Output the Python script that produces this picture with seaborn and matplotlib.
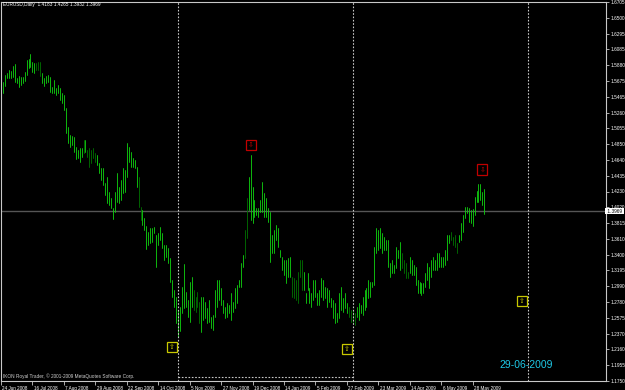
import matplotlib
matplotlib.use("Agg")
import matplotlib.pyplot as plt
import matplotlib.transforms as mtransforms
import numpy as np
import pandas as pd
import seaborn as sns

# ---------------- data ----------------
highs = [
    1.5620, 1.5663, 1.5751, 1.5773, 1.5816, 1.5807, 1.5868, 1.5894, 1.5707, 1.5738,
    1.5728, 1.5728, 1.5794, 1.5947, 1.5956, 1.6025, 1.5925, 1.5903, 1.5903, 1.5925,
    1.5925, 1.5773, 1.5707, 1.5738, 1.5751, 1.5728, 1.5598, 1.5685, 1.5585, 1.5620,
    1.5576, 1.5511, 1.5489, 1.5315, 1.5075, 1.4966, 1.4953, 1.4944, 1.4813, 1.4770,
    1.4792, 1.4792, 1.4901, 1.4901, 1.4770, 1.4792, 1.4770, 1.4792, 1.4727, 1.4705,
    1.4596, 1.4531, 1.4531, 1.4335, 1.4422, 1.4225, 1.4138, 1.4008, 1.4225, 1.4466,
    1.4291, 1.4378, 1.4531, 1.4509, 1.4858, 1.4813, 1.4748, 1.4661, 1.4639, 1.4552,
    1.4422, 1.4029, 1.3986, 1.3880, 1.3770, 1.3700, 1.3750, 1.3746, 1.3768, 1.3659,
    1.3680, 1.3768, 1.3680, 1.3528, 1.3528, 1.3484, 1.3353, 1.3070, 1.2939, 1.2850,
    1.2678, 1.2722, 1.2983, 1.3280, 1.2918, 1.2809, 1.3048, 1.3114, 1.2939, 1.2852,
    1.2918, 1.2787, 1.2852, 1.2852, 1.2787, 1.2700, 1.2809, 1.2591, 1.2613, 1.2939,
    1.3070, 1.3070, 1.2961, 1.2809, 1.2722, 1.2765, 1.2743, 1.2896, 1.2787, 1.2961,
    1.3005, 1.3070, 1.3288, 1.3397, 1.3724, 1.4138, 1.4421, 1.4704, 1.4290, 1.4116,
    1.4007, 1.4007, 1.4116, 1.4356, 1.4203, 1.4138, 1.4007, 1.3964, 1.3659, 1.3724,
    1.3789, 1.3746, 1.3462, 1.3375, 1.3332, 1.3332, 1.3353, 1.3375, 1.3114, 1.3092,
    1.3070, 1.3179, 1.3332, 1.3332, 1.3179, 1.2896, 1.3157, 1.2961, 1.2896, 1.3070,
    1.3070, 1.2896, 1.2940, 1.3092, 1.3070, 1.2983, 1.2961, 1.2940, 1.2831, 1.2809,
    1.2765, 1.2635, 1.2896, 1.2983, 1.2831, 1.2896, 1.2765, 1.2722, 1.2678, 1.2678,
    1.2635, 1.2722, 1.2765, 1.2744, 1.2853, 1.2940, 1.2961, 1.3070, 1.3049, 1.3049,
    1.3506, 1.3746, 1.3724, 1.3746, 1.3681, 1.3637, 1.3593, 1.3593, 1.3288, 1.3332,
    1.3267, 1.3506, 1.3463, 1.3572, 1.3419, 1.3332, 1.3288, 1.3179, 1.3375, 1.3332,
    1.3267, 1.3245, 1.3070, 1.3049, 1.3027, 1.3027, 1.3157, 1.3288, 1.3245, 1.3332,
    1.3375, 1.3332, 1.3419, 1.3419, 1.3375, 1.3375, 1.3463, 1.3659, 1.3659, 1.3702,
    1.3637, 1.3659, 1.3550, 1.3659, 1.3811, 1.3920, 1.4029, 1.4029, 1.4007, 1.3986,
    1.3994, 1.4160, 1.4238, 1.4325, 1.4325, 1.4225, 1.4265,
]
lows = [
    1.5520, 1.5519, 1.5611, 1.5707, 1.5707, 1.5707, 1.5728, 1.5663, 1.5642, 1.5598,
    1.5620, 1.5642, 1.5676, 1.5751, 1.5838, 1.5851, 1.5794, 1.5773, 1.5816, 1.5816,
    1.5738, 1.5642, 1.5607, 1.5651, 1.5663, 1.5532, 1.5519, 1.5511, 1.5489, 1.5519,
    1.5424, 1.5380, 1.5293, 1.4988, 1.4858, 1.4813, 1.4835, 1.4748, 1.4648, 1.4661,
    1.4617, 1.4682, 1.4727, 1.4748, 1.4682, 1.4552, 1.4596, 1.4661, 1.4617, 1.4574,
    1.4466, 1.4378, 1.4313, 1.4182, 1.4073, 1.4051, 1.4008, 1.3864, 1.3963, 1.4094,
    1.4073, 1.4116, 1.4204, 1.4225, 1.4422, 1.4617, 1.4552, 1.4552, 1.4531, 1.4291,
    1.4029, 1.3855, 1.3790, 1.3720, 1.3480, 1.3530, 1.3560, 1.3571, 1.3680, 1.3245,
    1.3528, 1.3593, 1.3484, 1.3332, 1.3375, 1.3288, 1.3048, 1.2852, 1.2722, 1.2504,
    1.2329, 1.2400, 1.2634, 1.2700, 1.2722, 1.2591, 1.2525, 1.2722, 1.2678, 1.2656,
    1.2722, 1.2504, 1.2395, 1.2547, 1.2569, 1.2504, 1.2525, 1.2438, 1.2417, 1.2591,
    1.2722, 1.2809, 1.2743, 1.2634, 1.2569, 1.2591, 1.2634, 1.2547, 1.2656, 1.2700,
    1.2765, 1.2983, 1.2983, 1.3245, 1.3353, 1.3615, 1.3985, 1.3855, 1.3811, 1.3898,
    1.3920, 1.3898, 1.3964, 1.3964, 1.3898, 1.3898, 1.3833, 1.3310, 1.3419, 1.3419,
    1.3593, 1.3506, 1.3375, 1.3201, 1.3136, 1.3027, 1.3114, 1.3114, 1.2852, 1.2831,
    1.2809, 1.2765, 1.3114, 1.2939, 1.2939, 1.2765, 1.2940, 1.2765, 1.2722, 1.2809,
    1.2853, 1.2744, 1.2744, 1.2853, 1.2809, 1.2831, 1.2722, 1.2787, 1.2722, 1.2569,
    1.2504, 1.2526, 1.2569, 1.2678, 1.2656, 1.2700, 1.2635, 1.2591, 1.2526, 1.2504,
    1.2482, 1.2591, 1.2547, 1.2635, 1.2613, 1.2678, 1.2722, 1.2831, 1.2853, 1.2983,
    1.3005, 1.3419, 1.3463, 1.3484, 1.3419, 1.3463, 1.3463, 1.3245, 1.3114, 1.3157,
    1.3157, 1.3223, 1.3354, 1.3201, 1.3223, 1.3157, 1.3092, 1.3092, 1.3157, 1.3136,
    1.3136, 1.3005, 1.2896, 1.2896, 1.2874, 1.2896, 1.2983, 1.3070, 1.2961, 1.3114,
    1.3201, 1.3201, 1.3201, 1.3245, 1.3245, 1.3245, 1.3267, 1.3332, 1.3550, 1.3593,
    1.3528, 1.3506, 1.3419, 1.3572, 1.3593, 1.3702, 1.3877, 1.3942, 1.3833, 1.3811,
    1.3776, 1.3920, 1.4095, 1.4095, 1.4116, 1.4051, 1.3932,
]
dim_bars = [18, 19, 20, 42, 44, 45, 46, 47, 48, 70, 71, 98, 99, 100, 101, 124, 125,
            148, 149, 150, 151, 152, 153, 177, 178, 179, 180, 204, 205, 206, 207,
            229, 230, 231, 232]
last_open = 1.4183
last_close = 1.3969

date_labels = ["24 Jun 2008", "16 Jul 2008", "7 Aug 2008", "29 Aug 2008", "22 Sep 2008",
               "14 Oct 2008", "5 Nov 2008", "27 Nov 2008", "19 Dec 2008", "14 Jan 2009",
               "5 Feb 2009", "27 Feb 2009", "23 Mar 2009", "14 Apr 2009", "6 May 2009",
               "28 May 2009"]
date_label_bars = [0, 16, 32, 48, 64, 80, 96, 112, 128, 144, 160, 176, 192, 208, 224, 240]
price_labels = ["1.6705", "1.6500", "1.6295", "1.6085", "1.5880", "1.5675", "1.5465",
                "1.5260", "1.5055", "1.4850", "1.4640", "1.4435", "1.4230", "1.4020",
                "1.3815", "1.3610", "1.3400", "1.3195", "1.2990", "1.2780", "1.2575",
                "1.2370", "1.2160", "1.1955", "1.1750"]
price_top, price_bottom = 1.6705, 1.1750

cycle_bars = [90, 179, 268]
cycle_base_price = 1.1802
signal_bars = [87, 127, 176, 245, 265]
signal_prices = [1.2194, 1.4835, 1.2168, 1.4515, 1.2796]
signal_kinds = ["up", "down", "up", "down", "up"]
projection_date = "29-06-2009"

# ---------------- style ----------------
sns.set_style("dark", rc={"axes.facecolor": "black", "figure.facecolor": "black",
                          "axes.edgecolor": "#c8c8c8", "axes.grid": False})
plt.rcParams["font.family"] = ["Liberation Sans", "DejaVu Sans"]

W, H = 625, 390
fig = plt.figure(figsize=(W / 100, H / 100), dpi=100)
fig.patch.set_facecolor("black")
ax = fig.add_axes([0.5 / W, (H - 381) / H, 605.5 / W, 379 / H])
ax.set_facecolor("black")

# long-form table: each bar is a low->high segment
n = len(highs)
bars = np.arange(n)
tone = np.where(np.isin(bars, dim_bars), "dim", "up")
df = pd.DataFrame({
    "bar": np.concatenate([bars, bars]),
    "price": np.concatenate([lows, highs]),
    "tone": np.concatenate([tone, tone]),
})
sns.lineplot(data=df, x="bar", y="price", units="bar", estimator=None, hue="tone",
             palette={"up": "#10d010", "dim": "#007000"}, linewidth=0.62,
             legend=False, sort=True, ax=ax)

ax.set_xlim(-0.25, 307.9)
ax.set_ylim(price_bottom, price_top)

# current price line
ax.axhline(last_close, color="#555555", lw=1.0, zorder=0)

# cycle lines
for cb in cycle_bars:
    ax.axvline(cb, color="#c8c8c8", lw=0.8, ls=(0, (1.5, 1.5)), zorder=3)
ax.plot([cycle_bars[0], cycle_bars[1]], [cycle_base_price, cycle_base_price],
        color="#c8c8c8", lw=0.8, ls=(0, (1.5, 1.5)))

# signals
for b, p, k in zip(signal_bars, signal_prices, signal_kinds):
    c = "#c8c800" if k == "up" else "#c00000"
    glyph = "\u21e7" if k == "up" else "\u21e9"
    ax.text(b, p, glyph, ha="center", va="center", fontsize=5, color=c,
            family="DejaVu Sans", zorder=5,
            bbox=dict(boxstyle="square,pad=0.3", fc="black", ec=c, lw=0.9))

# axes / ticks
for s in ax.spines.values():
    s.set_color("#c8c8c8")
    s.set_linewidth(0.8)
ax.yaxis.tick_right()
yt = np.linspace(price_top, price_bottom, len(price_labels))
ax.set_yticks(yt)
ax.set_yticklabels(price_labels)
ax.tick_params(axis="y", which="both", right=True, left=False, length=2, width=0.6,
               color="#c8c8c8", labelsize=3.4, labelcolor="white", pad=1.5)
ax.set_xticks(date_label_bars)
ax.set_xticklabels(date_labels, ha="left")
ax.tick_params(axis="x", which="both", bottom=True, length=3, width=0.6,
               color="#c8c8c8", labelsize=3.3, labelcolor="white", pad=0.5)
for lab in ax.get_xticklabels():
    lab.set_transform(lab.get_transform() + mtransforms.ScaledTranslation(1.5 / 100, 0, fig.dpi_scale_trans))
ax.set_xlabel("")
ax.set_ylabel("")

# current price tag
trans = mtransforms.blended_transform_factory(ax.transAxes, ax.transData)
ax.text(1.0, last_close, " %.4f " % last_close, transform=trans, ha="left", va="center",
        fontsize=3.4, color="black", clip_on=False,
        bbox=dict(boxstyle="square,pad=0.15", fc="white", ec="white", lw=0))

# texts
fig.text(3 / W, 1 - 2 / H,
         "EURUSD,Daily  %.4f %.4f %.4f %.4f" % (last_open, highs[-1], lows[-1], last_close),
         ha="left", va="top", fontsize=3.4, color="white")
fig.text(3 / W, 1 - 379 / H, "IKON Royal Trader, \u00a9 2001-2009 MetaQuotes Software Corp.",
         ha="left", va="bottom", fontsize=3.4, color="#d0d0d0")
fig.text(526 / W, 1 - 365 / H, projection_date, ha="center", va="center",
         fontsize=7.5, color="#1ec8e6")

fig.savefig("out.png", dpi=100, facecolor="black")
